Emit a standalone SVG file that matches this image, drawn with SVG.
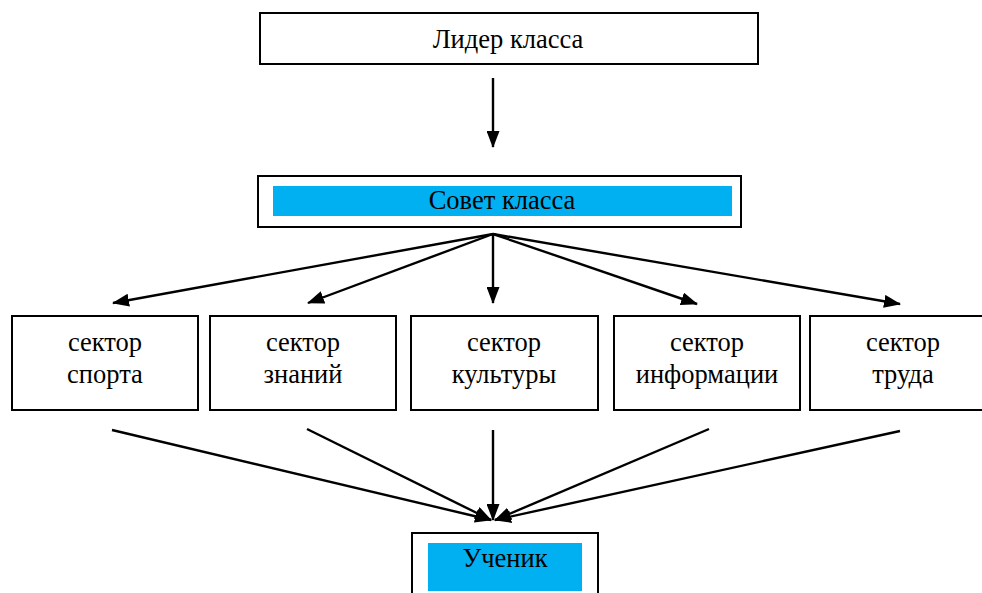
<svg xmlns="http://www.w3.org/2000/svg" width="982" height="593" viewBox="0 0 982 593" font-family="'Liberation Serif', 'DejaVu Serif', serif">
<style>
.box{fill:#fff;stroke:#000;stroke-width:2}
.hl{fill:#00B0F0}
text{font-family:'Liberation Serif','DejaVu Serif',serif;font-size:26.5px;fill:#000;text-anchor:middle}
.c{stroke:#000;stroke-width:2.4;fill:none;marker-end:url(#ah)}
</style>
<defs>
<marker id="ah" viewBox="0 0 17 13" refX="16" refY="6.5" markerWidth="17" markerHeight="13" markerUnits="userSpaceOnUse" orient="auto">
<path d="M0,0 L17,6.5 L0,13 Z" fill="#000"/>
</marker>
</defs>
<rect width="982" height="593" fill="#fff"/>
<g id="leader">
<rect class="box" x="260" y="13" width="498" height="51"/>
<text x="508" y="48">Лидер класса</text>
</g>
<g id="council">
<rect class="box" x="258" y="176" width="483" height="51"/>
<rect class="hl" x="273" y="186" width="459" height="30"/>
<text x="502" y="209">Совет класса</text>
</g>
<g id="sport">
<rect class="box" x="12" y="316" width="186" height="94"/>
<text x="105" y="351">сектор</text>
<text x="105" y="383">спорта</text>
</g>
<g id="knowledge">
<rect class="box" x="210" y="316" width="186" height="94"/>
<text x="303" y="351">сектор</text>
<text x="303" y="383">знаний</text>
</g>
<g id="culture">
<rect class="box" x="411" y="316" width="187" height="94"/>
<text x="504" y="351">сектор</text>
<text x="504" y="383">культуры</text>
</g>
<g id="info">
<rect class="box" x="614" y="316" width="186" height="94"/>
<text x="707" y="351">сектор</text>
<text x="707" y="383">информации</text>
</g>
<g id="labor">
<rect class="box" x="810" y="316" width="186" height="94"/>
<text x="903" y="351">сектор</text>
<text x="903" y="383">труда</text>
</g>
<g id="student">
<rect class="box" x="412" y="533" width="186" height="70"/>
<rect class="hl" x="428" y="543" width="154" height="48"/>
<text x="505" y="567">Ученик</text>
</g>
<g id="connectors">
<line class="c" x1="493" y1="78" x2="493" y2="147"/>
<line class="c" x1="493" y1="234" x2="113" y2="303"/>
<line class="c" x1="493" y1="234" x2="308" y2="303"/>
<line class="c" x1="493" y1="234" x2="493" y2="303"/>
<line class="c" x1="493" y1="234" x2="697" y2="304"/>
<line class="c" x1="493" y1="234" x2="900" y2="304"/>
<line class="c" x1="112" y1="430" x2="491" y2="520"/>
<line class="c" x1="307" y1="429" x2="491" y2="520"/>
<line class="c" x1="493" y1="430" x2="493" y2="520"/>
<line class="c" x1="709" y1="429" x2="495" y2="520"/>
<line class="c" x1="900" y1="431" x2="495" y2="520"/>
</g>
</svg>
